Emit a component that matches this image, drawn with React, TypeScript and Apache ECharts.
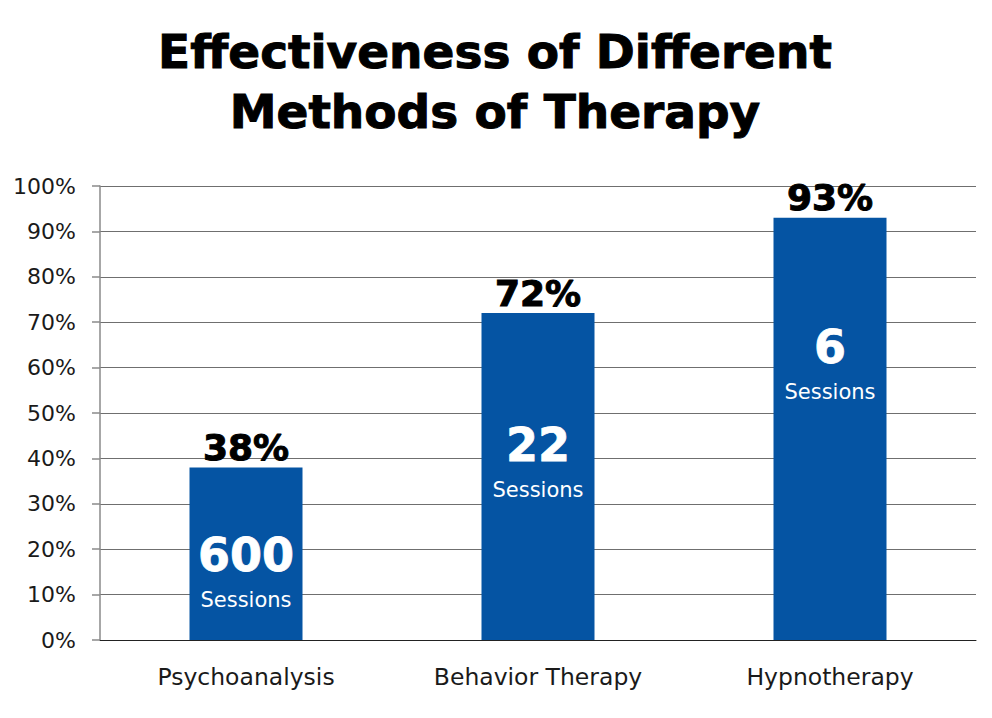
import React, { useEffect, useRef } from "react";
import * as echarts from "echarts";

const categories = ["Psychoanalysis", "Behavior Therapy", "Hypnotherapy"];
const effectiveness = [38, 72, 93];
const sessions = [600, 22, 6];
const yTicks = { min: 0, max: 100, interval: 10 };

const FONT = "DejaVu Sans";
const BLUE = "#0554a3";
// distance of the session label block from each bar's top (styling)
const sessionLabelDistance = [59, 103, 100];

export default function App() {
  const ref = useRef<HTMLDivElement>(null);
  useEffect(() => {
    if (!ref.current) return;
    const chart = echarts.init(ref.current, null, { renderer: "svg" });
    chart.setOption({
      animation: false,
      backgroundColor: "#ffffff",
      title: {
        text: "Effectiveness of Different\nMethods of Therapy",
        left: 490,
        top: 16,
        textAlign: "center",
        textStyle: {
          fontFamily: FONT,
          fontWeight: 800,
          fontSize: 47,
          lineHeight: 60,
          color: "#000000",
          textBorderColor: "#000000",
          textBorderWidth: 1,
        },
      },
      grid: { left: 100, right: 16, top: 186, bottom: 78, containLabel: false },
      xAxis: {
        type: "category",
        data: categories,
        axisLine: { show: true, lineStyle: { color: "#222", width: 1 } },
        axisTick: { show: false },
        axisLabel: {
          margin: 25,
          fontFamily: FONT,
          fontSize: 23.5,
          color: "#1a1a1a",
        },
      },
      yAxis: {
        type: "value",
        min: yTicks.min,
        max: yTicks.max,
        interval: yTicks.interval,
        axisLine: { show: true, lineStyle: { color: "#8a8a8a", width: 1.5 } },
        axisTick: { show: true, length: 8, lineStyle: { color: "#8a8a8a", width: 1.5 } },
        splitLine: { show: true, lineStyle: { color: "#6f6f6f", width: 1.2 } },
        axisLabel: {
          formatter: "{value}%",
          margin: 24,
          fontFamily: FONT,
          fontSize: 22,
          color: "#1a1a1a",
        },
      },
      series: [
        {
          type: "bar",
          data: effectiveness,
          barWidth: 113,
          itemStyle: { color: BLUE },
          label: {
            show: true,
            position: "top",
            distance: 2,
            formatter: "{c}%",
            fontFamily: FONT,
            fontWeight: 800,
            fontSize: 36,
            color: "#000000",
            textBorderColor: "#000000",
            textBorderWidth: 1,
          },
          z: 3,
        },
        {
          type: "bar",
          data: effectiveness.map((v, i) => ({
            value: v,
            label: { distance: sessionLabelDistance[i] },
          })),
          barWidth: 113,
          barGap: "-100%",
          itemStyle: { color: "rgba(0,0,0,0)" },
          silent: true,
          label: {
            show: true,
            position: "insideTop",
            formatter: (p: any) => `{n|${sessions[p.dataIndex]}}\n{s|Sessions}`,
            rich: {
              n: {
                fontFamily: FONT,
                fontWeight: 800,
                fontSize: 46,
                lineHeight: 58,
                color: "#ffffff",
                align: "center",
                textBorderColor: "#ffffff",
                textBorderWidth: 0.8,
              },
              s: {
                fontFamily: FONT,
                fontSize: 21,
                lineHeight: 32,
                color: "#ffffff",
                align: "center",
              },
            },
          },
          z: 4,
        },
      ],
    });
    return () => chart.dispose();
  }, []);
  return (
    <div
      ref={ref}
      style={{ position: "absolute", left: 0, top: 0, width: 992, height: 718 }}
    />
  );
}
